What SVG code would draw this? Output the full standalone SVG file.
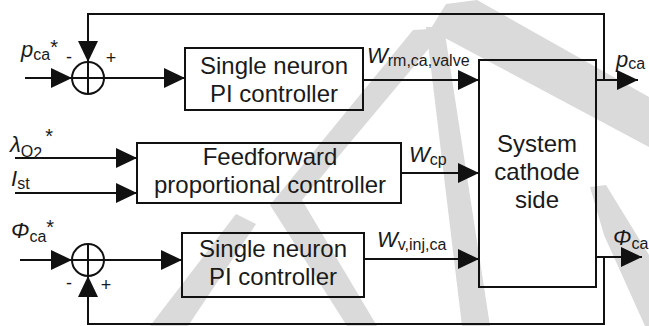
<svg xmlns="http://www.w3.org/2000/svg" width="649" height="326" viewBox="0 0 649 326">
<defs>
<style>
.wm{fill:#dadada;stroke:none}
.box{fill:none;stroke:#111;stroke-width:2}
.ln{fill:none;stroke:#111;stroke-width:2}
.t{font-family:"Liberation Sans",Arial,sans-serif;font-size:24px;fill:#1a1a1a;text-anchor:middle}
.lb{font-family:"Liberation Sans",Arial,sans-serif;font-size:22px;font-style:italic;fill:#1a1a1a}
.sb{font-size:16px;font-style:normal}
.st{font-size:20px;font-style:normal}
.sg{font-family:"Liberation Sans",Arial,sans-serif;font-size:18px;fill:#1a1a1a;text-anchor:middle}
</style>
<marker id="ah" markerUnits="userSpaceOnUse" markerWidth="21" markerHeight="20" refX="21" refY="10" orient="auto" viewBox="0 0 21 20">
<path d="M0,0 L21,10 L0,20 z" fill="#111"/>
</marker>
</defs>
<rect width="649" height="326" fill="#ffffff"/>
<g id="watermark">
<polygon class="wm" points="413,30 446,28 302,200 377,326 347,326 270,205"/>
<polygon class="wm" points="150,326 188,326 256,224 236,214"/>
<polygon class="wm" points="426,27 444,27 490,326 462,326"/>
<polygon class="wm" points="430,30 446,4 477,0 649,97 649,147"/>
<polygon class="wm" points="590,187 606,185 649,255 649,326 645,326 604,235"/>
</g>
<g id="connectors">
<path id="c_pca_in" class="ln" d="M25,78 H72" marker-end="url(#ah)"/>
<path id="c_fb_top" class="ln" d="M604,80 V14 H88 V62" marker-end="url(#ah)"/>
<path id="c_sum1_pi1" class="ln" d="M104,78 H185" marker-end="url(#ah)"/>
<path id="c_pi1_sys" class="ln" d="M363,80 H479" marker-end="url(#ah)"/>
<path id="c_sys_pca" class="ln" d="M596,80 H638" marker-end="url(#ah)"/>
<path id="c_lambda" class="ln" d="M15,158 H137" marker-end="url(#ah)"/>
<path id="c_ist" class="ln" d="M15,193 H137" marker-end="url(#ah)"/>
<path id="c_ff_sys" class="ln" d="M401,173 H479" marker-end="url(#ah)"/>
<path id="c_phi_in" class="ln" d="M20,260 H72" marker-end="url(#ah)"/>
<path id="c_sum2_pi2" class="ln" d="M104,260 H182" marker-end="url(#ah)"/>
<path id="c_pi2_sys" class="ln" d="M364,259 H479" marker-end="url(#ah)"/>
<path id="c_sys_phi" class="ln" d="M596,257 H642" marker-end="url(#ah)"/>
<path id="c_fb_bottom" class="ln" d="M604,257 V324 H88 V276" marker-end="url(#ah)"/>
</g>
<g id="sum1">
<circle class="ln" cx="88" cy="78" r="16"/>
<path class="ln" d="M72,78 H104 M88,62 V94"/>
<text class="sg" x="69" y="63">-</text>
<text class="sg" x="111" y="64">+</text>
</g>
<g id="sum2">
<circle class="ln" cx="88" cy="260" r="16"/>
<path class="ln" d="M72,260 H104 M88,244 V276"/>
<text class="sg" x="69" y="289">-</text>
<text class="sg" x="106" y="291">+</text>
</g>
<g id="pi1">
<rect class="box" x="185" y="48" width="178" height="62"/>
<text class="t" x="274" y="74">Single neuron</text>
<text class="t" x="274" y="102">PI controller</text>
</g>
<g id="ff">
<rect class="box" x="137" y="143" width="264" height="60"/>
<text class="t" x="270" y="165">Feedforward</text>
<text class="t" x="270" y="193">proportional controller</text>
</g>
<g id="pi2">
<rect class="box" x="182" y="233" width="182" height="64"/>
<text class="t" x="273" y="257">Single neuron</text>
<text class="t" x="273" y="285">PI controller</text>
</g>
<g id="sys">
<rect class="box" x="479" y="60" width="117" height="227"/>
<text class="t" x="537" y="152">System</text>
<text class="t" x="537" y="180">cathode</text>
<text class="t" x="537" y="208">side</text>
</g>
<g id="labels">
<text class="lb" x="21" y="57">p<tspan class="sb" dy="3">ca</tspan><tspan class="st" dy="-6">*</tspan></text>
<text class="lb" x="10" y="152">λ<tspan class="sb" dy="5" font-size="13">O</tspan><tspan class="sb" dy="2" font-size="9">2</tspan><tspan class="st" dy="-16" dx="3">*</tspan></text>
<text class="lb" x="11" y="186">I<tspan class="sb" dy="3">st</tspan></text>
<text class="lb" x="11" y="238">Φ<tspan class="sb" dy="4">ca</tspan><tspan class="st" dy="-8">*</tspan></text>
<text class="lb" x="367" y="63">W<tspan class="sb" dy="3">rm,ca,valve</tspan></text>
<text class="lb" x="409" y="162">W<tspan class="sb" dy="3">cp</tspan></text>
<text class="lb" x="377" y="247">W<tspan class="sb" dy="3">v,inj,ca</tspan></text>
<text class="lb" x="616" y="67">p<tspan class="sb" dy="2">ca</tspan></text>
<text class="lb" x="613" y="245">Φ<tspan class="sb" dy="4">ca</tspan></text>
</g>
</svg>
